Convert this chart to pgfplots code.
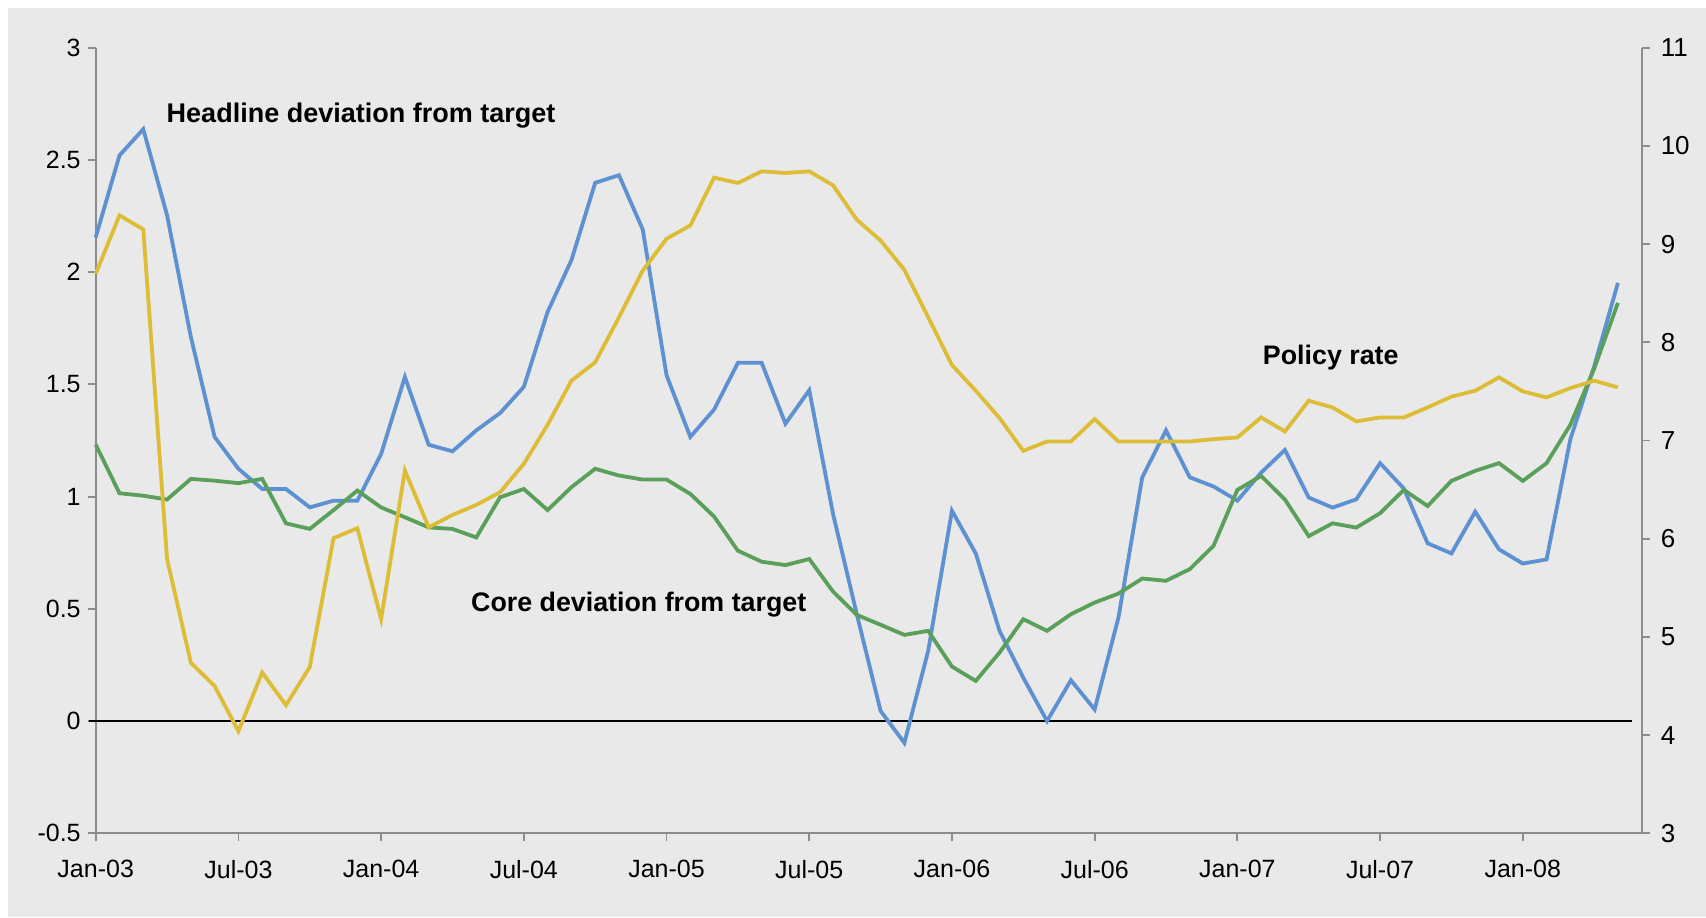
\documentclass[border=0pt]{standalone}
\usepackage{fontspec}
\setmainfont{Liberation Sans}
\usepackage{pgfplots}
\pgfplotsset{compat=1.18}

\definecolor{bg}{RGB}{233,233,233}
\definecolor{headline}{RGB}{94,145,210}
\definecolor{core}{RGB}{90,160,90}
\definecolor{policy}{RGB}{221,188,55}
\definecolor{axgray}{RGB}{140,140,140}

\pgfplotstableread{
m headline core
0 2.155 1.232
1 2.52 1.015
2 2.637 1.004
3 2.254 0.987
4 1.712 1.079
5 1.266 1.071
6 1.124 1.060
7 1.034 1.079
8 1.034 0.881
9 0.952 0.856
10 0.982 0.940
11 0.982 1.027
12 1.19 0.952
13 1.533 0.908
14 1.231 0.863
15 1.202 0.856
16 1.295 0.818
17 1.372 0.997
18 1.489 1.034
19 1.823 0.940
20 2.053 1.042
21 2.398 1.124
22 2.432 1.094
23 2.19 1.076
24 1.541 1.076
25 1.266 1.012
26 1.388 0.911
27 1.596 0.759
28 1.596 0.710
29 1.325 0.695
30 1.474 0.722
31 0.923 0.577
32 0.476 0.473
33 0.045 0.429
34 -0.097 0.384
35 0.312 0.402
36 0.937 0.243
37 0.747 0.179
38 0.402 0.305
39 0.193 0.454
40 0.0 0.402
41 0.182 0.476
42 0.052 0.528
43 0.461 0.568
44 1.086 0.635
45 1.295 0.625
46 1.086 0.677
47 1.045 0.781
48 0.982 1.030
49 1.107 1.092
50 1.208 0.987
51 0.996 0.824
52 0.951 0.881
53 0.988 0.862
54 1.149 0.926
55 1.036 1.030
56 0.792 0.958
57 0.747 1.070
58 0.933 1.115
59 0.765 1.149
60 0.702 1.070
61 0.720 1.149
62 1.256 1.320
63 1.580 1.570
64 1.952 1.863
}\devtable

\pgfplotstableread{
m rate
0 8.697
1 9.293
2 9.150
3 5.794
4 4.737
5 4.500
6 4.040
7 4.637
8 4.305
9 4.694
10 6.006
11 6.107
12 5.181
13 6.694
14 6.116
15 6.242
16 6.344
17 6.473
18 6.762
19 7.160
20 7.609
21 7.796
22 8.255
23 8.731
24 9.054
25 9.190
26 9.677
27 9.622
28 9.741
29 9.724
30 9.741
31 9.599
32 9.248
33 9.037
34 8.738
35 8.255
36 7.769
37 7.507
38 7.228
39 6.895
40 6.990
41 6.990
42 7.218
43 6.990
44 6.990
45 6.990
46 6.990
47 7.014
48 7.031
49 7.235
50 7.092
51 7.405
52 7.337
53 7.194
54 7.235
55 7.235
56 7.337
57 7.446
58 7.507
59 7.643
60 7.500
61 7.439
62 7.534
63 7.609
64 7.541
}\ratetable

\pgfplotsset{
  common/.style={
    scale only axis, width=773pt, height=392.8pt,
    at={(0,0)}, anchor=south west,
    xmin=0, xmax=65,
    tick align=outside, major tick length=4pt,
    every tick/.style={axgray, line width=0.9pt},
    axis line style={axgray, line width=0.9pt},
    tick label style={font=\fontsize{12.5}{14}\selectfont, black},
    /pgf/number format/assume math mode=true,
    clip=false,
  }
}

\begin{document}
\begin{tikzpicture}
\useasboundingbox (-47.85pt,-41.85pt) rectangle (805.15pt,416.65pt);
\fill[white] (-47.85pt,-41.85pt) rectangle (805.15pt,416.65pt);
\fill[bg] (-43.85pt,-41.85pt) rectangle (805.15pt,412.65pt);

\begin{axis}[common,
  ymin=-0.5, ymax=3,
  axis x line*=bottom, axis y line*=left,
  ytick={-0.5,0,0.5,1,1.5,2,2.5,3},
  yticklabel style={/pgf/number format/fixed, /pgf/number format/precision=1},
  xtick={0,6,12,18,24,30,36,42,48,54,60},
  xticklabels={Jan-03,Jul-03,Jan-04,Jul-04,Jan-05,Jul-05,Jan-06,Jul-06,Jan-07,Jul-07,Jan-08},
  xticklabel style={yshift=-6pt},
]
\addplot[black, line width=1.1pt] coordinates {(-0.3,0) (64.6,0)};
\addplot[headline, line width=1.9pt] table[x=m, y=headline] {\devtable};
\addplot[core, line width=1.9pt] table[x=m, y=core] {\devtable};
\node[anchor=base west, inner sep=0pt, font=\fontsize{13.5}{15}\selectfont\bfseries] at (axis cs:2.97,2.667) {Headline deviation from target};
\node[anchor=base west, inner sep=0pt, font=\fontsize{13.4}{15}\selectfont\bfseries] at (axis cs:15.77,0.487) {Core deviation from target};
\node[anchor=base west, inner sep=0pt, font=\fontsize{13.4}{15}\selectfont\bfseries] at (axis cs:49.06,1.590) {Policy rate};
\end{axis}

\begin{axis}[common,
  ymin=3, ymax=11,
  axis x line=none, axis y line*=right,
  ytick={3,4,5,6,7,8,9,10,11},
  yticklabel style={font=\fontsize{13}{15}\selectfont, xshift=2pt},
]
\addplot[policy, line width=1.9pt] table[x=m, y=rate] {\ratetable};
\end{axis}
\end{tikzpicture}
\end{document}
